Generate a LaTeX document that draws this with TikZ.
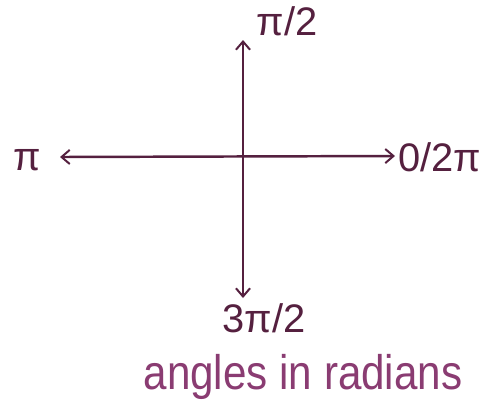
\documentclass[tikz,border=0pt]{standalone}
\usepackage{fontspec}
\setmainfont{Liberation Sans}
\usepackage{xcolor}
\usetikzlibrary{arrows.meta}
\definecolor{AxInk}{HTML}{55203F}
\definecolor{CapInk}{HTML}{8A3C72}

\tikzset{
  axisline/.style={AxInk,line width=2.1pt,{Straight Barb[length=7pt,width=12pt,line width=1.7pt]}-{Straight Barb[length=7pt,width=12pt,line width=1.7pt]}},
  anglelabel/.style={AxInk,inner sep=0pt,font=\fontsize{34}{38}\selectfont},
  caption/.style={CapInk,inner sep=0pt,font=\fontsize{36}{40}\selectfont}
}

\begin{document}
\begin{tikzpicture}[x=0.03cm,y=-0.03cm]
\path[use as bounding box] (0,0) rectangle (489,409);
% axis ends
\coordinate (west) at (60,157);
\coordinate (east) at (395,156);
\coordinate (north) at (243,40);
\coordinate (south) at (243,298);
% labels
\node[anglelabel] (halfpi) at (287,21) {π/2};
\node[anglelabel] (pi) at (27,160) {π};
\node[anglelabel] (zero) at (440,157) {0/2π};
\node[anglelabel] (threehalf) at (264,318) {3π/2};
\node[caption,yscale=1.15] (note) at (303,377) {angles in radians};
% axes
\draw[axisline] (west) -- (east);
\draw[axisline] (south) -- (north);
\end{tikzpicture}
\end{document}
